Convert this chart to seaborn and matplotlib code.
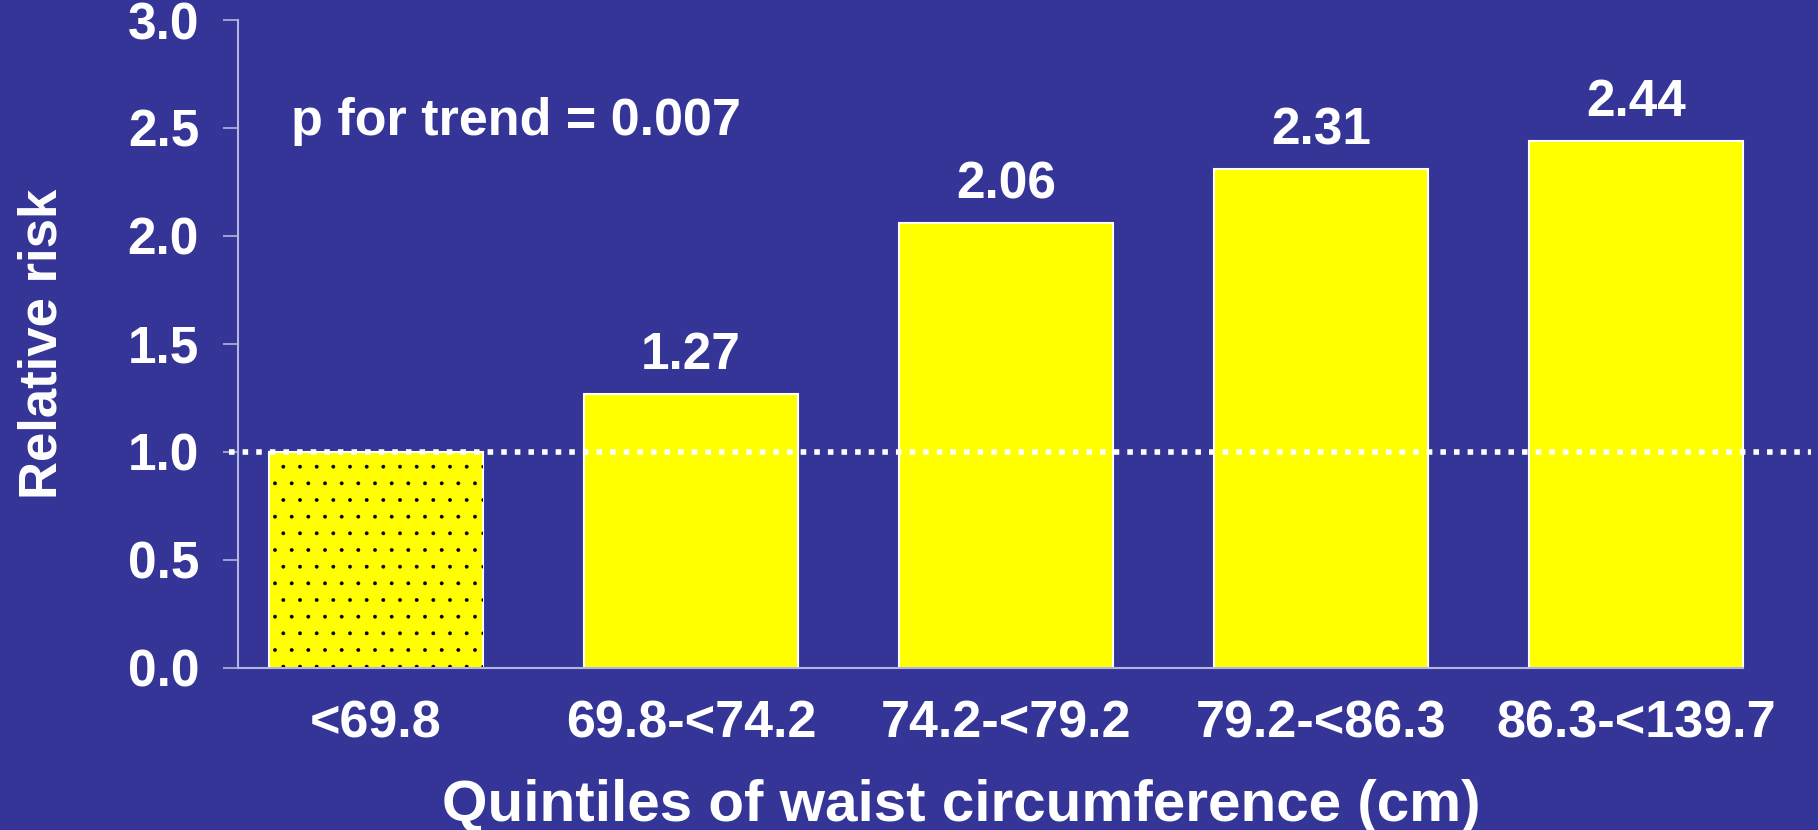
import matplotlib
matplotlib.use("Agg")
import matplotlib.pyplot as plt
import seaborn as sns
import pandas as pd

# values
categories = ["<69.8", "69.8-<74.2", "74.2-<79.2", "79.2-<86.3", "86.3-<139.7"]
relative_risk = [1.00, 1.27, 2.06, 2.31, 2.44]
value_labels = ["", "1.27", "2.06", "2.31", "2.44"]
y_ticks = [0.0, 0.5, 1.0, 1.5, 2.0, 2.5, 3.0]
p_trend_text = "p for trend = 0.007"

BG = "#353598"
BAR = "#ffff00"
AXIS = "#b4b4dc"

sns.set_theme(style="white")
plt.rcParams["font.family"] = ["Liberation Sans", "DejaVu Sans"]
plt.rcParams["font.weight"] = "bold"
plt.rcParams["hatch.linewidth"] = 0.3

df = pd.DataFrame({"quintile": categories, "rr": relative_risk})

fig = plt.figure(figsize=(18.18, 8.3), dpi=100, facecolor=BG)
ax = fig.add_axes([0.1309, 0.1952, 0.8653, 0.7807])
ax.set_facecolor(BG)

sns.barplot(data=df, x="quintile", y="rr", color=BAR, saturation=1,
            width=0.68, edgecolor="white", linewidth=1.5, ax=ax)

# dotted reference bar (first quintile)
ax.bar(0, relative_risk[0], width=0.68, fill=False, hatch=".",
       edgecolor="black", linewidth=0, zorder=2)

# reference line at RR = 1
ax.axhline(1.0, xmin=-0.006, xmax=1.0, color="white", linewidth=4.0,
           linestyle=(0, (1, 1.45)), dash_capstyle="butt", clip_on=False, zorder=4)

for i, lab in enumerate(value_labels):
    if lab:
        ax.annotate(lab, (i, relative_risk[i]), xytext=(0, 18),
                    textcoords="offset points", ha="center", va="baseline",
                    fontsize=37, color="white", fontweight="bold")

ax.text(-0.27, 2.53, p_trend_text, ha="left", va="center",
        fontsize=37.5, color="white", fontweight="bold")

ax.set_xlim(-0.438, 4.556)
ax.set_ylim(0, 3.0)
ax.set_yticks(y_ticks)
ax.set_yticklabels([f"{t:.1f}" for t in y_ticks])

for s in ["top", "right"]:
    ax.spines[s].set_visible(False)
for s in ["left", "bottom"]:
    ax.spines[s].set_color(AXIS)
    ax.spines[s].set_linewidth(1.5)
ax.spines["bottom"].set_bounds(-0.438, 4.34)

ax.tick_params(axis="y", length=11, width=1.2, color=AXIS, pad=17,
               labelsize=37, labelcolor="white", direction="out", left=True)
ax.tick_params(axis="x", length=0, pad=23, labelsize=37.5, labelcolor="white")
for lbl in ax.get_xticklabels() + ax.get_yticklabels():
    lbl.set_fontweight("bold")

ax.set_xlabel("Quintiles of waist circumference (cm)", fontsize=42,
              color="white", fontweight="bold")
ax.xaxis.set_label_coords(0.460, -0.213)
ax.xaxis.label.set_va("center")
ax.set_ylabel("Relative risk", fontsize=38, color="white", fontweight="bold")
ax.yaxis.set_label_coords(-0.1245, 0.5)
ax.yaxis.label.set_va("center")

fig.savefig("out.png", dpi=100, facecolor=BG)
